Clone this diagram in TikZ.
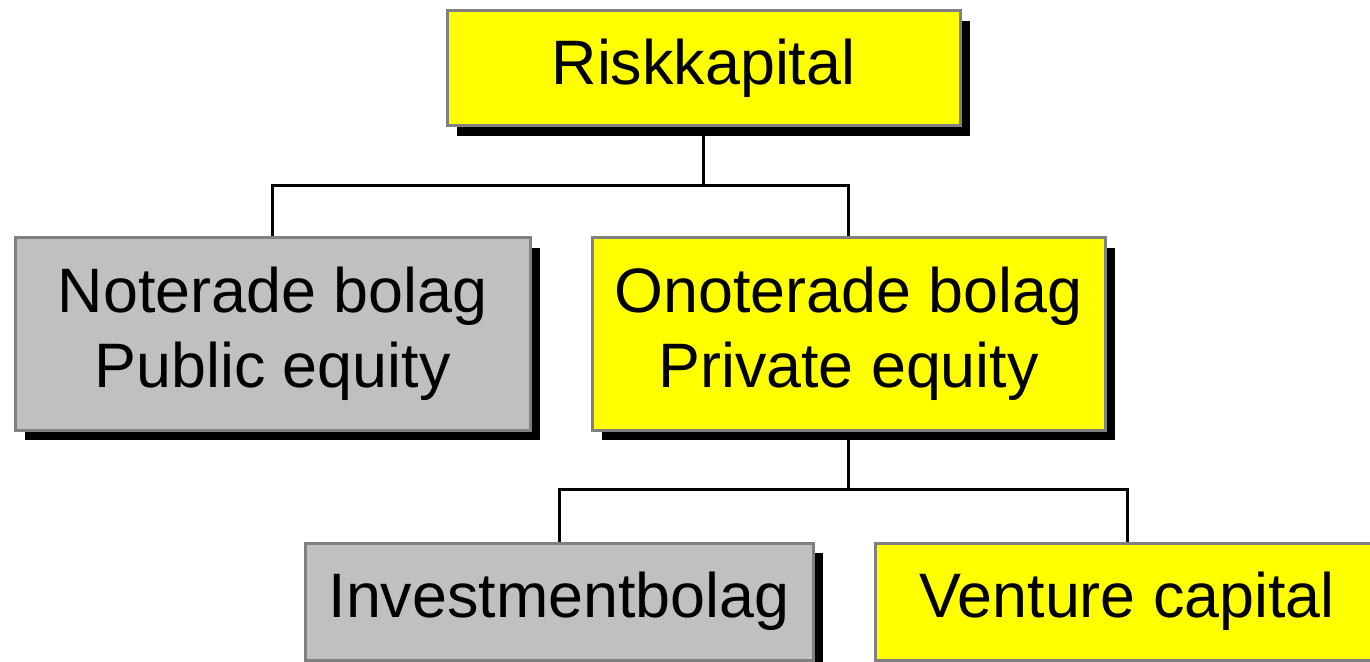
\documentclass[tikz,border=0pt]{standalone}
\usepackage{fontspec}
\setmainfont{Liberation Sans}
\usetikzlibrary{shadows}
\definecolor{boxyellow}{RGB}{255,255,0}
\definecolor{boxgray}{RGB}{192,192,192}
\definecolor{boxborder}{RGB}{128,128,128}
\begin{document}
\begin{tikzpicture}[x=0.5pt,y=-0.5pt,
  box/.style={draw=boxborder, line width=1.5pt, inner sep=0pt, align=center,
    font=\fontsize{31.4}{37.5}\selectfont,
    drop shadow={shadow xshift=5pt, shadow yshift=-5pt, fill=black, opacity=1}},
  yel/.style={box, fill=boxyellow},
  gry/.style={box, fill=boxgray},
  conn/.style={draw=black, line width=1.5pt}]
\useasboundingbox (0,0) rectangle (1370,662);
\clip (0,0) rectangle (1370,662);
\fill[white] (0,0) rectangle (1370,662);
\node[yel, minimum width=256.5pt, minimum height=57.5pt] (r) at (703.5,68.5) {Riskkapital};
\node[gry, minimum width=257.5pt, minimum height=96pt] (n) at (272.5,334) {Noterade bolag\\Public equity};
\node[yel, minimum width=256.5pt, minimum height=96pt] (o) at (848.5,334) {Onoterade bolag\\Private equity};
\node[gry, minimum width=254pt, minimum height=58.5pt] (i) at (559,601.5) {Investmentbolag};
\node[yel, minimum width=252pt, minimum height=58.5pt] (v) at (1127,601.5) {Venture capital};
\coordinate (j1) at (703.5,186);
\coordinate (j2) at (848.5,489);
\draw[conn] (r.south) -- (j1);
\draw[conn] (j1) -| (n.north);
\draw[conn] (j1) -| (o.north);
\draw[conn] (o.south) -- (j2);
\draw[conn] (j2) -| (i.north);
\draw[conn] (j2) -| (v.north);
\end{tikzpicture}
\end{document}
